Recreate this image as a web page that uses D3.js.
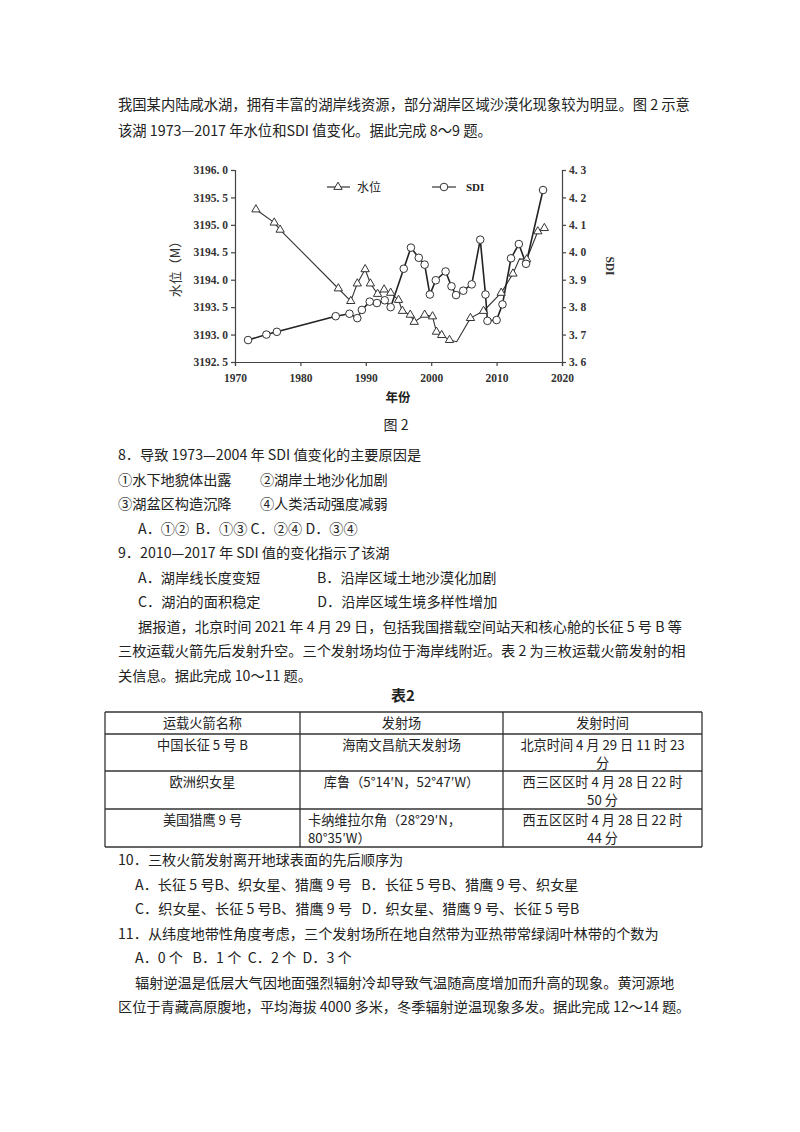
<!DOCTYPE html>
<html><head><meta charset="utf-8">
<script src="https://cdn.jsdelivr.net/npm/d3@7"></script>
<style>
body{margin:0;background:#fff;}
svg{display:block;}
text{white-space:pre;}
</style></head><body>
<svg id="c" width="800" height="1132"></svg>
<script>
const levelYears=[1973.2,1976.0,1976.9,1985.8,1987.7,1988.7,1989.9,1990.7,1991.8,1992.8,1993.8,1995.0,1995.6,1996.8,1997.4,1999.0,2000.2,2000.8,2001.6,2002.8,2003.9,2006.0,2008.0,2010.7,2012.5,2013.5,2014.6,2016.3,2017.3];
const levelValues=[3195.28,3195.04,3194.91,3193.84,3193.61,3193.93,3194.19,3193.93,3193.74,3193.82,3193.76,3193.63,3193.43,3193.36,3193.23,3193.36,3193.33,3193.05,3192.99,3192.90,3192.87,3193.30,3193.43,3193.76,3194.11,3194.38,3194.37,3194.88,3194.94];
const levelMarker=[1,1,1,1,1,1,1,1,1,1,1,1,1,1,1,1,1,1,1,1,0,1,1,1,1,0,1,1,1];
const sdiYears=[1972,1974.8,1976.4,1985.4,1987.5,1988.7,1989.4,1990.6,1991.7,1992.9,1993.8,1995.8,1996.9,1998.1,1999.0,1999.8,2000.7,2002.2,2003.1,2003.8,2004.9,2006.2,2007.5,2008.3,2008.6,2010.0,2010.9,2012.2,2013.4,2014.5,2017.1];
const sdiValues=[3.68,3.70,3.71,3.767,3.776,3.76,3.79,3.82,3.815,3.825,3.80,3.94,4.017,3.98,3.955,3.846,3.898,3.93,3.876,3.844,3.86,3.883,4.046,3.846,3.75,3.753,3.81,3.978,4.03,3.958,4.227];
const xTicks=[1970,1980,1990,2000,2010,2020];
const leftTicks=[3192.5,3193.0,3193.5,3194.0,3194.5,3195.0,3195.5,3196.0];
const rightTicks=[3.6,3.7,3.8,3.9,4.0,4.1,4.2,4.3];

const svg=d3.select("#c");
const CJK="'Noto Sans CJK SC', sans-serif";
const SER="'Liberation Serif','Noto Serif', serif";
function txt(x,y,s,opt={}){
  return svg.append("text").attr("x",x).attr("y",y).text(s)
   .attr("font-family",opt.f||CJK).attr("font-size",opt.s||14.5)
   .attr("fill","#222").attr("text-anchor",opt.a||"start")
   .attr("font-weight",opt.w||"normal");
}
txt(118,110,"我国某内陆咸水湖，拥有丰富的湖岸线资源，部分湖岸区域沙漠化现象较为明显。图 2 示意",{s:14.3});
txt(118,136,"该湖 1973—2017 年水位和SDI 值变化。据此完成 8～9 题。",{s:14.3});

const x=d3.scaleLinear().domain([1970,2020]).range([235,562]);
const yL=d3.scaleLinear().domain([3192.5,3196]).range([362,170]);
const yR=d3.scaleLinear().domain([3.6,4.3]).range([362,170]);
const g=svg.append("g");
const fmt=d=>d.toFixed(1).replace(".",". ");
const axB=g.append("g").attr("transform","translate(0,362)").call(d3.axisBottom(x).tickValues(xTicks).tickSize(4).tickFormat(d3.format("d")));
const axL=g.append("g").attr("transform","translate(235,0)").call(d3.axisLeft(yL).tickValues(leftTicks).tickSize(4).tickFormat(fmt));
const axR=g.append("g").attr("transform","translate(562,0)").call(d3.axisRight(yR).tickValues(rightTicks).tickSize(4).tickFormat(fmt));
[axB,axL,axR].forEach(a=>{a.selectAll("path,line").attr("stroke","#444").attr("stroke-width",1.2);
 a.selectAll("text").attr("font-family",SER).attr("font-size",11.5).attr("font-weight","bold").attr("fill","#333");});
axB.selectAll("text").attr("dy","1.1em");
svg.append("text").attr("transform","translate(180,266) rotate(-90)").attr("text-anchor","middle")
 .attr("font-family",CJK).attr("font-size",13).attr("fill","#333").text("水位（M）");
svg.append("text").attr("transform","translate(606,266) rotate(90)").attr("text-anchor","middle")
 .attr("font-family",SER).attr("font-size",11.5).attr("font-weight","bold").attr("fill","#333").text("SDI");
txt(398,402,"年份",{s:12.5,a:"middle",w:"bold"});

const lvl=levelYears.map((d,i)=>({x:d,y:levelValues[i],m:levelMarker[i]}));
const sdi=sdiYears.map((d,i)=>({x:d,y:sdiValues[i]}));
g.append("path").datum(lvl).attr("fill","none").attr("stroke","#333").attr("stroke-width",1.1)
 .attr("d",d3.line().x(d=>x(d.x)).y(d=>yL(d.y)));
g.append("path").datum(sdi).attr("fill","none").attr("stroke","#222").attr("stroke-width",1.6)
 .attr("d",d3.line().x(d=>x(d.x)).y(d=>yR(d.y)));
const tri=d3.symbol().type(d3.symbolTriangle).size(30);
g.selectAll(".t").data(lvl.filter(d=>d.m)).join("path").attr("d",tri)
 .attr("transform",d=>`translate(${x(d.x)},${yL(d.y)})`).attr("fill","#fff").attr("stroke","#333").attr("stroke-width",1);
g.selectAll(".c").data(sdi).join("circle").attr("cx",d=>x(d.x)).attr("cy",d=>yR(d.y)).attr("r",3.8)
 .attr("fill","#fff").attr("stroke","#333").attr("stroke-width",1);
g.append("line").attr("x1",327).attr("x2",350).attr("y1",187).attr("y2",187).attr("stroke","#333").attr("stroke-width",1.2);
g.append("path").attr("d",tri).attr("transform","translate(338,187)").attr("fill","#fff").attr("stroke","#333");
txt(357,192,"水位",{s:12});
g.append("line").attr("x1",432).attr("x2",456).attr("y1",187).attr("y2",187).attr("stroke","#333").attr("stroke-width",1.2);
g.append("circle").attr("cx",444).attr("cy",187).attr("r",3.8).attr("fill","#fff").attr("stroke","#333");
txt(466,191,"SDI",{s:11,f:SER,w:"bold"});
txt(396,430,"图 2",{s:14,a:"middle"});

const lines=[
 [118,"8．导致 1973—2004 年 SDI 值变化的主要原因是"],
 [118,"①水下地貌体出露　　②湖岸土地沙化加剧"],
 [118,"③湖盆区构造沉降　　④人类活动强度减弱"],
 [138,"A．①②  B．①③ C．②④ D．③④"],
 [118,"9．2010—2017 年 SDI 值的变化指示了该湖"],
 [138,"A．湖岸线长度变短　　　　B．沿岸区域土地沙漠化加剧"],
 [138,"C．湖泊的面积稳定　　　　D．沿岸区域生境多样性增加"],
 [138,"据报道，北京时间 2021 年 4 月 29 日，包括我国搭载空间站天和核心舱的长征 5 号 B 等"],
 [118,"三枚运载火箭先后发射升空。三个发射场均位于海岸线附近。表 2 为三枚运载火箭发射的相"],
 [118,"关信息。据此完成 10～11 题。"]];
lines.forEach((l,i)=>txt(l[0],460+i*24.5,l[1],{s:14.2}));
txt(403,701,"表2",{s:15,a:"middle",w:"bold"});
const cols=[105,300,503,702], rows=[712,734,771,809,847];
rows.forEach(r=>svg.append("line").attr("x1",105).attr("x2",702).attr("y1",r).attr("y2",r).attr("stroke","#333").attr("stroke-width",1.3));
cols.forEach(c=>svg.append("line").attr("x1",c).attr("x2",c).attr("y1",712).attr("y2",847).attr("stroke","#333").attr("stroke-width",1.3));
const cells=[
 [["运载火箭名称"],["发射场"],["发射时间"]],
 [["中国长征 5 号 B"],["海南文昌航天发射场"],["北京时间 4 月 29 日 11 时 23","分"]],
 [["欧洲织女星"],["库鲁（5°14′N，52°47′W）"],["西三区区时 4 月 28 日 22 时","50 分"]],
 [["美国猎鹰 9 号"],["卡纳维拉尔角（28°29′N，","80°35′W）"],["西五区区时 4 月 28 日 22 时","44 分"]]];
cells.forEach((row,ri)=>row.forEach((cell,ci)=>{
  const cx=(cols[ci]+cols[ci+1])/2;
  cell.forEach((s,k)=>{
    const left = ri==3&&ci==1;
    txt(left?cols[1]+8:cx, rows[ri]+16+k*18, s,{s:13.2,a:left?"start":"middle"});
  });
}));
const lines2=[
 [118,"10．三枚火箭发射离开地球表面的先后顺序为"],
 [135,"A．长征 5 号B、织女星、猎鹰 9 号   B．长征 5 号B、猎鹰 9 号、织女星"],
 [135,"C．织女星、长征 5 号B、猎鹰 9 号   D．织女星、猎鹰 9 号、长征 5 号B"],
 [118,"11．从纬度地带性角度考虑，三个发射场所在地自然带为亚热带常绿阔叶林带的个数为"],
 [135,"A．0 个   B．1 个  C．2 个  D．3 个"],
 [135,"辐射逆温是低层大气因地面强烈辐射冷却导致气温随高度增加而升高的现象。黄河源地"],
 [118,"区位于青藏高原腹地，平均海拔 4000 多米，冬季辐射逆温现象多发。据此完成 12～14 题。"]];
lines2.forEach((l,i)=>txt(l[0],865+i*24.5,l[1],{s:14.2}));
</script></body></html>
